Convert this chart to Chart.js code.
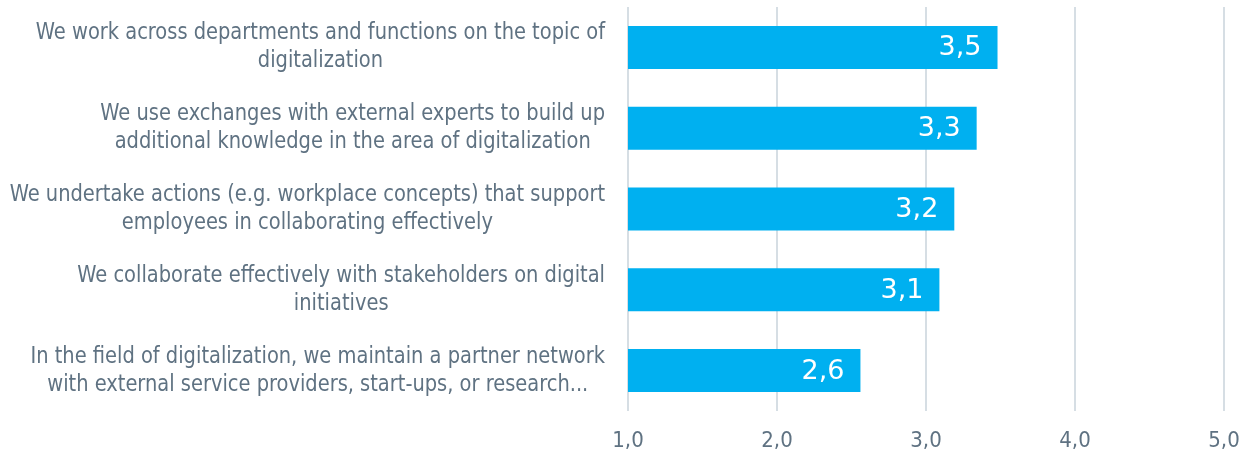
<!DOCTYPE html>
<html>
<head>
<meta charset="utf-8">
<script src="https://cdn.jsdelivr.net/npm/chart.js@4/dist/chart.umd.min.js"></script>
<style>
  html, body { margin: 0; padding: 0; background: #ffffff; }
  #wrap { width: 1241px; height: 456px; }
</style>
</head>
<body>
<div id="wrap"><canvas id="myChart"></canvas></div>
<script>
// chart data
const categories = [
  ['We work across departments and functions on the topic of', 'digitalization'],
  ['We use exchanges with external experts to build up', 'additional knowledge in the area of digitalization'],
  ['We undertake actions (e.g. workplace concepts) that support', 'employees in collaborating effectively'],
  ['We collaborate effectively with stakeholders on digital', 'initiatives'],
  ['In the field of digitalization, we maintain a partner network', 'with external service providers, start-ups, or research...']
];
const scores = [3.48, 3.34, 3.19, 3.09, 2.56];
const xTicks = [1, 2, 3, 4, 5];

const FONT = "'DejaVu Sans Condensed', 'DejaVu Sans', sans-serif";
const labelColor = '#5f7282';
const squeeze = 0.94; // the original font is a bit narrower than anything installed

function fmt(v, d) {
  return v.toFixed(d).replace('.', ',');
}

// draws the wrapped category labels: lines centred, block right aligned
const categoryLabels = {
  id: 'categoryLabels',
  afterDraw(chart) {
    const ctx = chart.ctx;
    const yScale = chart.scales.y;
    const right = chart.chartArea.left - 23;
    const lineH = 28;
    ctx.save();
    ctx.font = '23px ' + FONT;
    ctx.fillStyle = labelColor;
    ctx.textAlign = 'center';
    ctx.textBaseline = 'middle';
    categories.forEach((lines, i) => {
      const yc = yScale.getPixelForTick(i);
      const w = Math.max(...lines.map(l => ctx.measureText(l).width)) * squeeze;
      const cx = right - w / 2;
      const y0 = yc - (lines.length - 1) * lineH / 2;
      lines.forEach((l, j) => {
        ctx.save();
        ctx.translate(cx, y0 + j * lineH);
        ctx.scale(squeeze, 1);
        ctx.fillText(l, 0, 0);
        ctx.restore();
      });
    });
    ctx.restore();
  }
};

// value labels inside the end of each bar
const valueLabels = {
  id: 'valueLabels',
  afterDatasetsDraw(chart) {
    const ctx = chart.ctx;
    const meta = chart.getDatasetMeta(0);
    ctx.save();
    ctx.font = "27px 'DejaVu Sans', sans-serif";
    ctx.fillStyle = '#ffffff';
    ctx.textAlign = 'right';
    ctx.textBaseline = 'middle';
    meta.data.forEach((bar, i) => {
      ctx.fillText(fmt(scores[i], 1), bar.x - 16, bar.y + 1);
    });
    ctx.restore();
  }
};

new Chart(document.getElementById('myChart'), {
  type: 'bar',
  data: {
    labels: categories.map(c => c.join(' ')),
    datasets: [{
      data: scores,
      backgroundColor: '#00b0f0',
      borderWidth: 0,
      barPercentage: 0.532,
      categoryPercentage: 1.0
    }]
  },
  options: {
    indexAxis: 'y',
    responsive: true,
    maintainAspectRatio: false,
    animation: false,
    layout: { padding: { top: 7, right: 0, bottom: 0, left: 0 } },
    plugins: {
      legend: { display: false },
      tooltip: { enabled: false }
    },
    scales: {
      x: {
        min: xTicks[0],
        max: xTicks[xTicks.length - 1],
        afterBuildTicks: (scale) => { scale.ticks = xTicks.map(v => ({ value: v })); },
        afterFit: (scale) => { scale.height = 45; scale.paddingRight = 17; },
        grid: { color: '#d6dee4', lineWidth: 2, drawTicks: false },
        border: { display: false },
        ticks: {
          color: labelColor,
          font: { family: FONT, size: 22 },
          padding: 17,
          callback: (v) => fmt(v, 1)
        }
      },
      y: {
        grid: { display: false },
        border: { display: false },
        ticks: { display: false },
        afterFit: (scale) => { scale.width = 628; }
      }
    }
  },
  plugins: [categoryLabels, valueLabels]
});
</script>
</body>
</html>
